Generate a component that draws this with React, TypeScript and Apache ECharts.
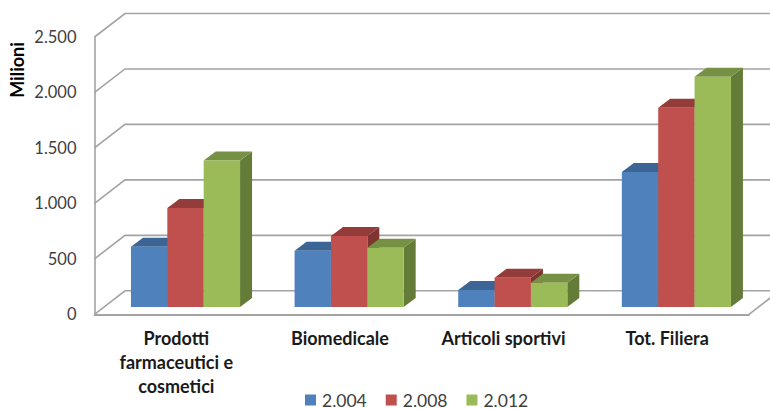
import React, { useEffect, useRef } from "react";
import * as echarts from "echarts";

const categories = ["Prodotti\nfarmaceutici e\ncosmetici", "Biomedicale", "Articoli sportivi", "Tot. Filiera"];
const yTicks = [0, 500, 1000, 1500, 2000, 2500];
const years = ["2.004", "2.008", "2.012"];
const values2004 = [543, 507, 153, 1216];
const values2008 = [892, 640, 264, 1797];
const values2012 = [1320, 534, 219, 2075];

const FONT = "Lato, 'Open Sans', sans-serif";
const GRID = "#a3a3a3";
const WALL_DX = 30.5;
const WALL_DY = 23.5;
const BAR_SHIFT_X = 9.2;
const BAR_SHIFT_Y = 7.3;
const BAR_DX = 12;
const BAR_DY = 9;

const poly = (points: number[][], fill: string) => ({
  type: "polygon",
  shape: { points },
  style: { fill, stroke: "none" },
});

const fmt = (v: number) =>
  v < 1000 ? String(v) : `${Math.floor(v / 1000)}.${String(v % 1000).padStart(3, "0")}`;

const wallRender = (params: any, api: any) => {
  const cs = params.coordSys;
  const v = api.value(1);
  const y = api.coord([0, v])[1];
  const children: any[] = [
    {
      type: "polyline",
      shape: {
        points: [
          [cs.x, y],
          [cs.x + WALL_DX, y - WALL_DY],
          [cs.x + cs.width + WALL_DX, y - WALL_DY],
        ],
      },
      style: { stroke: GRID, fill: "none", lineWidth: 1.6 },
    },
  ];
  if (v === 0) {
    children.push({
      type: "line",
      shape: { x1: cs.x + cs.width, y1: y, x2: cs.x + cs.width + WALL_DX, y2: y - WALL_DY },
      style: { stroke: GRID, lineWidth: 1.6 },
    });
  }
  return { type: "group", children };
};

const barRender = (index: number, colors: { front: string; top: string; side: string }) => (params: any, api: any) => {
  const cat = api.value(0);
  const band = api.size([1, 0])[0];
  const w = (band * (2 / 3)) / 3;
  const c = api.coord([cat, api.value(1)]);
  const b = api.coord([cat, 0]);
  const x0 = c[0] - 1.5 * w + index * w + BAR_SHIFT_X;
  const x1 = x0 + w;
  const yTop = c[1] - BAR_SHIFT_Y;
  const yBase = b[1] - BAR_SHIFT_Y;
  return {
    type: "group",
    children: [
      poly([[x1, yTop], [x1 + BAR_DX, yTop - BAR_DY], [x1 + BAR_DX, yBase - BAR_DY], [x1, yBase]], colors.side),
      poly([[x0, yTop], [x0 + BAR_DX, yTop - BAR_DY], [x1 + BAR_DX, yTop - BAR_DY], [x1, yTop]], colors.top),
      poly([[x0, yTop], [x1, yTop], [x1, yBase], [x0, yBase]], colors.front),
    ],
  };
};

const palette = [
  { front: "#4F81BD", top: "#3C6494", side: "#33557f" },
  { front: "#C0504D", top: "#943C3A", side: "#7F3432" },
  { front: "#9BBB59", top: "#779144", side: "#647C38" },
];
const seriesValues = [values2004, values2008, values2012];

export default function App() {
  const ref = useRef<HTMLDivElement>(null);
  useEffect(() => {
    const chart = echarts.init(ref.current!, undefined, { renderer: "svg" });
    chart.setOption({
      animation: false,
      backgroundColor: "#ffffff",
      grid: { left: 94.5, right: 21, top: 37, bottom: 94.7 },
      xAxis: {
        type: "category",
        data: categories,
        axisLine: { show: true, lineStyle: { color: GRID, width: 2 } },
        axisTick: { show: false },
        axisLabel: {
          interval: 0,
          margin: 12,
          fontFamily: FONT,
          fontSize: 18,
          fontWeight: "bold",
          color: "#1a1a1a",
          lineHeight: 24,
          verticalAlign: "top",
        },
      },
      yAxis: {
        type: "value",
        min: 0,
        max: 2500,
        interval: 500,
        axisLine: { show: true, lineStyle: { color: GRID, width: 1.6 } },
        axisTick: { show: false },
        splitLine: { show: false },
        axisLabel: {
          margin: 18,
          fontFamily: FONT,
          fontSize: 16.5,
          color: "#404040",
          formatter: (v: number) => fmt(v),
        },
      },
      legend: {
        data: years,
        left: 305,
        top: 391,
        itemWidth: 11,
        itemHeight: 11,
        itemGap: 19,
        icon: "rect",
        padding: 0,
        textStyle: { fontFamily: FONT, fontSize: 17.5, lineHeight: 15, color: "#404040", padding: [0, 0, 0, 1] },
      },
      graphic: [
        {
          type: "text",
          x: 17,
          y: 70,
          rotation: Math.PI / 2,
          style: {
            text: "Milioni",
            fontFamily: FONT,
            fontSize: 18,
            fontWeight: "bold",
            fill: "#000000",
            textAlign: "center",
            textVerticalAlign: "middle",
          },
        },
      ],
      series: [
        {
          type: "custom",
          silent: true,
          clip: false,
          renderItem: wallRender,
          encode: { x: 0, y: 1 },
          data: yTicks.map((v) => [0, v]),
          z: 1,
        },
        ...years.map((name, i) => ({
          type: "custom",
          name,
          clip: false,
          itemStyle: { color: palette[i].front },
          renderItem: barRender(i, palette[i]),
          encode: { x: 0, y: 1 },
          data: seriesValues[i].map((v, k) => [k, v]),
          z: 2 + i,
        })),
      ],
    });
    return () => chart.dispose();
  }, []);
  return <div ref={ref} style={{ position: "fixed", left: 0, top: 0, width: 770, height: 409 }} />;
}
